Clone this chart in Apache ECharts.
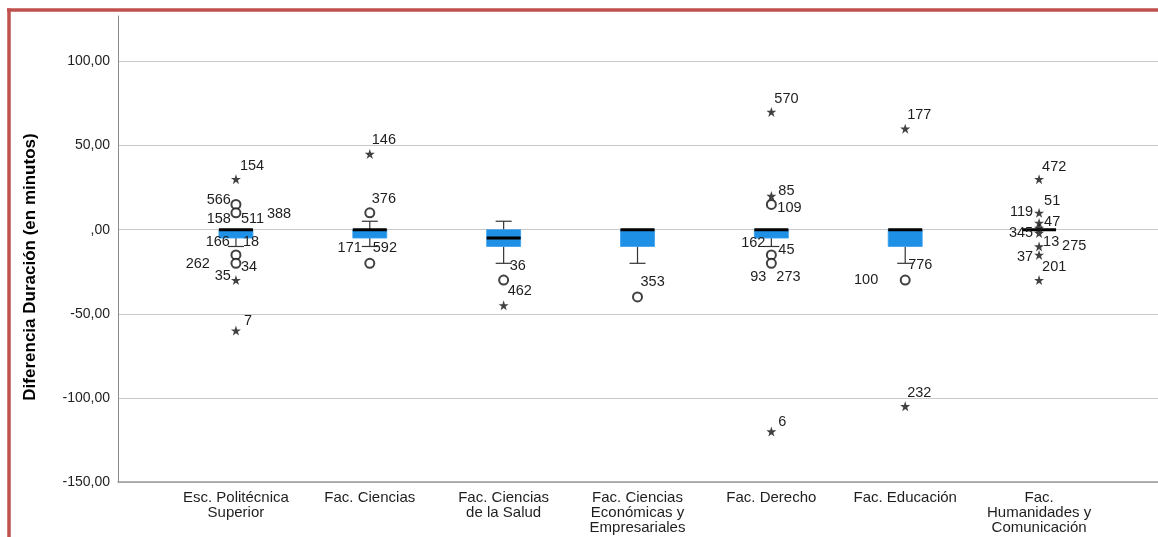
<!DOCTYPE html>
<html><head><meta charset="utf-8">
<script src="https://cdn.jsdelivr.net/npm/echarts@6/dist/echarts.min.js"></script>
<style>html,body{margin:0;padding:0;background:#fff}#c{width:1158px;height:537px}</style>
</head><body><div id="c"></div>
<script>
// ---------- DATA ----------
const categories = ['Esc. Politécnica\nSuperior', 'Fac. Ciencias', 'Fac. Ciencias\nde la Salud',
  'Fac. Ciencias\nEconómicas y\nEmpresariales', 'Fac. Derecho', 'Fac. Educación',
  'Fac.\nHumanidades y\nComunicación'];
// [lower whisker, Q1, median, Q3, upper whisker]
const boxStats = [
  [-10, -5, 0, 0, 0],
  [-10, -5, 0, 0, 5],
  [-20, -10, -5, 0, 5],
  [-20, -10, 0, 0, 0],
  [-10, -5, 0, 0, 0],
  [-20, -10, 0, 0, 0],
  [0, 0, 0, 0, 0]
];
// outliers [category index, value]
const outlierCircles = [[0, 15], [0, 10], [0, -15], [0, -20], [1, 10], [1, -20], [2, -30],
  [3, -40], [4, 15], [4, -15], [4, -20], [5, -30]];
const extremeStars = [[0, 30], [0, -30], [0, -60], [1, 45], [2, -45], [4, 70], [4, 20], [4, -120],
  [5, 60], [5, -105], [6, 30], [6, 10], [6, 4], [6, 1], [6, -2], [6, -10], [6, -15], [6, -30]];
// case id labels [category index, value, id]
const caseIds = [
  [0, 30, '154'], [0, 15, '566'], [0, 10, '158'], [0, 10, '511'], [0, 10, '388'],
  [0, -15, '166'], [0, -15, '18'], [0, -20, '262'], [0, -20, '34'], [0, -30, '35'], [0, -60, '7'],
  [1, 45, '146'], [1, 10, '376'], [1, -20, '171'], [1, -20, '592'],
  [2, -30, '36'], [2, -45, '462'],
  [3, -40, '353'],
  [4, 70, '570'], [4, 20, '85'], [4, 15, '109'], [4, -15, '162'], [4, -15, '45'],
  [4, -20, '93'], [4, -20, '273'], [4, -120, '6'],
  [5, 60, '177'], [5, -30, '100'], [5, -30, '776'], [5, -105, '232'],
  [6, 30, '472'], [6, 10, '51'], [6, 10, '119'], [6, 4, '47'], [6, -2, '345'],
  [6, -10, '13'], [6, -10, '275'], [6, -15, '37'], [6, -30, '201']
];
const yTicks = [-150, -100, -50, 0, 50, 100];
const yTitle = 'Diferencia Duración (en minutos)';

// ---------- LABEL LAYOUT (style only) ----------
const labelLayout = [
  [4, -13, 'left'], [-5, -4, 'right'], [-5, 6, 'right'], [5, 6, 'left'], [31, 1, 'left'],
  [-6, -13, 'right'], [7, -13, 'left'], [-26, 1, 'right'], [5, 4, 'left'], [-5, -4, 'right'], [8, -10, 'left'],
  [2, -14, 'left'], [2, -14, 'left'], [-8, -15, 'right'], [3, -15, 'left'],
  [6, -14, 'left'], [4, -14, 'left'],
  [3, -15, 'left'],
  [3, -13, 'left'], [7, -5, 'left'], [6, 4, 'left'], [-6, -12, 'right'], [7, -5, 'left'],
  [-5, 14, 'right'], [5, 14, 'left'], [7, -10, 'left'],
  [2, -14, 'left'], [-27, 0, 'right'], [3, -15, 'left'], [2, -13, 'left'],
  [3, -12, 'left'], [5, -12, 'left'], [-6, -1, 'right'], [5, -1, 'left'], [-6, 0, 'right'],
  [4, -4, 'left'], [23, 0, 'left'], [-6, 2, 'right'], [3, -13, 'left']
];

const FONT = 'Arial, "Liberation Sans", sans-serif';
const STAR = 'path://M50,0 L61.8,35.4 L99,35.4 L69,57.3 L80.4,92.7 L50,70.8 L19.6,92.7 L31,57.3 L1,35.4 L38.2,35.4 Z';

function fmtY(v) {
  if (v === 0) return ',00';
  return v.toFixed(2).replace('.', ',');
}

const chart = echarts.init(document.getElementById('c'), null, {renderer: 'canvas'});
const gridTop = 16, gridBottom = 55;
const yMin = -150, yMax = 127;

chart.setOption({
  animation: false,
  backgroundColor: '#ffffff',
  grid: [
    {left: 118, right: 0, top: gridTop, bottom: gridBottom},
    {left: 169, right: 52, top: gridTop, bottom: gridBottom}
  ],
  xAxis: [
    {gridIndex: 0, type: 'value', min: 0, max: 1, position: 'bottom',
      axisLine: {show: true, onZero: false, lineStyle: {color: '#9a9a9a', width: 1.5}},
      axisTick: {show: false}, axisLabel: {show: false}, splitLine: {show: false}},
    {gridIndex: 1, type: 'category', data: categories, boundaryGap: true,
      axisLine: {show: false, onZero: false}, axisTick: {show: false}, splitLine: {show: false},
      axisLabel: {interval: 0, color: '#1e1e1e', fontFamily: FONT, fontSize: 15, lineHeight: 15, margin: 8}}
  ],
  yAxis: [
    {gridIndex: 0, type: 'value', min: yMin, max: yMax, interval: 50,
      axisLine: {show: true, lineStyle: {color: '#8a8a8a', width: 1}},
      axisTick: {show: false},
      splitLine: {show: true, showMaxLine: false, lineStyle: {color: '#c9c9c9', width: 1}},
      axisLabel: {color: '#1e1e1e', fontFamily: FONT, fontSize: 14, margin: 8, showMaxLabel: false,
        formatter: v => (yTicks.indexOf(v) >= 0 ? fmtY(v) : '')}},
    {gridIndex: 1, type: 'value', min: yMin, max: yMax, show: false}
  ],
  graphic: [
    {type: 'text', x: 30, y: 267, rotation: Math.PI / 2, z: 10,
      style: {text: yTitle, textAlign: 'center', textVerticalAlign: 'middle',
        font: 'bold 17px Arial, "Liberation Sans", sans-serif', fill: '#000'}},
    {type: 'line', shape: {x1: 7, y1: 10, x2: 1158, y2: 10}, style: {stroke: '#c0504d', lineWidth: 3.5}},
    {type: 'line', shape: {x1: 9, y1: 8.5, x2: 9, y2: 537}, style: {stroke: '#c0504d', lineWidth: 3.5}}
  ],
  series: [
    {
      type: 'custom', xAxisIndex: 1, yAxisIndex: 1, z: 3,
      data: boxStats.map((s, i) => [i].concat(s)),
      encode: {x: 0, y: [1, 2, 3, 4, 5]},
      renderItem: function (params, api) {
        const i = api.value(0);
        const x = api.coord([i, 0])[0];
        const yLo = api.coord([i, api.value(1)])[1];
        const yQ1 = api.coord([i, api.value(2)])[1];
        const yMed = api.coord([i, api.value(3)])[1];
        const yQ3 = api.coord([i, api.value(4)])[1];
        const yHi = api.coord([i, api.value(5)])[1];
        const hw = 17, cw = 8;
        const wl = {stroke: '#333', lineWidth: 1.2};
        const ch = [];
        if (yHi < yQ3 - 0.5) {
          ch.push({type: 'line', shape: {x1: x, y1: yQ3, x2: x, y2: yHi}, style: wl});
          ch.push({type: 'line', shape: {x1: x - cw, y1: yHi, x2: x + cw, y2: yHi}, style: wl});
        }
        if (yLo > yQ1 + 0.5) {
          ch.push({type: 'line', shape: {x1: x, y1: yQ1, x2: x, y2: yLo}, style: wl});
          ch.push({type: 'line', shape: {x1: x - cw, y1: yLo, x2: x + cw, y2: yLo}, style: wl});
        }
        if (yQ1 - yQ3 > 0.5) {
          ch.push({type: 'rect', shape: {x: x - hw, y: yQ3, width: 2 * hw, height: yQ1 - yQ3},
            style: {fill: '#1e90e6', stroke: '#3aa0ee', lineWidth: 0.8}});
        }
        ch.push({type: 'line', shape: {x1: x - hw, y1: yMed, x2: x + hw, y2: yMed},
          style: {stroke: '#000', lineWidth: 3}});
        return {type: 'group', children: ch};
      }
    },
    {
      type: 'scatter', xAxisIndex: 1, yAxisIndex: 1, z: 4,
      data: outlierCircles, symbol: 'emptyCircle', symbolSize: 9,
      itemStyle: {color: '#111', borderColor: '#111', borderWidth: 1.5}
    },
    {
      type: 'scatter', xAxisIndex: 1, yAxisIndex: 1, z: 4,
      data: extremeStars, symbol: STAR, symbolSize: 10,
      itemStyle: {color: '#111'}
    },
    {
      type: 'custom', xAxisIndex: 1, yAxisIndex: 1, z: 5,
      data: caseIds.map(c => [c[0], c[1]]),
      encode: {x: 0, y: 1},
      renderItem: function (params, api) {
        const p = api.coord([api.value(0), api.value(1)]);
        const lay = labelLayout[params.dataIndex];
        return {type: 'text', x: p[0] + lay[0], y: p[1] + lay[1],
          style: {text: caseIds[params.dataIndex][2], textAlign: lay[2], textVerticalAlign: 'middle',
            font: '14.5px ' + FONT, fill: '#1e1e1e'}};
      }
    }
  ]
});
</script></body></html>
